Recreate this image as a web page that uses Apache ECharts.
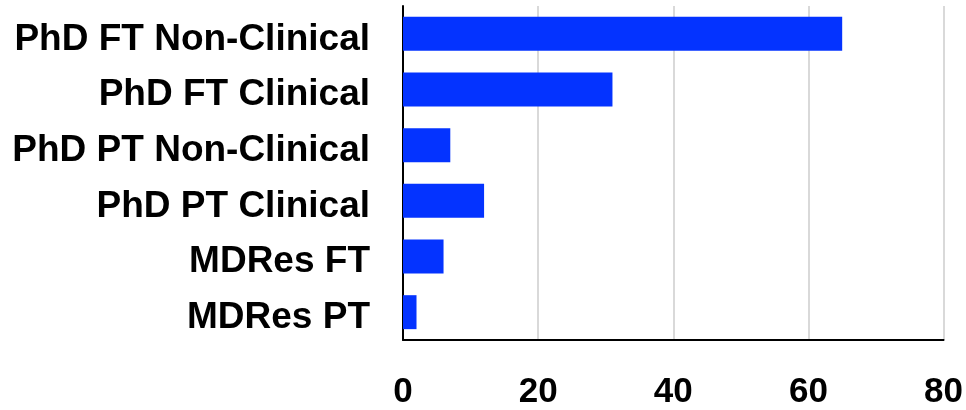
<!DOCTYPE html>
<html><head><meta charset="utf-8">
<script src="https://cdn.jsdelivr.net/npm/echarts@6/dist/echarts.min.js"></script>
<style>html,body{margin:0;padding:0;background:#fff}#c{width:966px;height:410px}</style>
</head><body><div id="c"></div>
<script>
const categories = ["PhD FT Non-Clinical","PhD FT Clinical","PhD PT Non-Clinical","PhD PT Clinical","MDRes FT","MDRes PT"];
const values = [65, 31, 7, 12, 6, 2];
const xTicks = [0, 20, 40, 60, 80];

const chart = echarts.init(document.getElementById('c'), null, {renderer:'canvas'});
chart.setOption({
  animation:false,
  grid:{left:403, right:22, top:6, bottom:62, containLabel:false},
  xAxis:{
    type:'value', min:xTicks[0], max:xTicks[xTicks.length-1], interval:20,
    axisLine:{show:true, lineStyle:{color:'#000', width:2}},
    axisTick:{show:false},
    splitLine:{show:true, lineStyle:{color:'#d9d9d9', width:2}},
    axisLabel:{color:'#000', fontFamily:'Liberation Sans, Arial', fontWeight:'bold', fontSize:35, margin:35}
  },
  yAxis:{
    type:'category', data:categories, inverse:true,
    axisLine:{show:true, lineStyle:{color:'#000', width:2}},
    axisTick:{show:false},
    axisLabel:{
      margin:33,
      formatter: v => '{a|' + v + '}',
      rich:{a:{color:'#000', fontFamily:'Liberation Sans, Arial', fontWeight:'bold', fontSize:37, padding:[11,0,0,0]}}
    }
  },
  series:[{
    type:'bar', data:values, barCategoryGap:'39%',
    itemStyle:{color:'#0433ff'}
  }]
});
</script></body></html>
